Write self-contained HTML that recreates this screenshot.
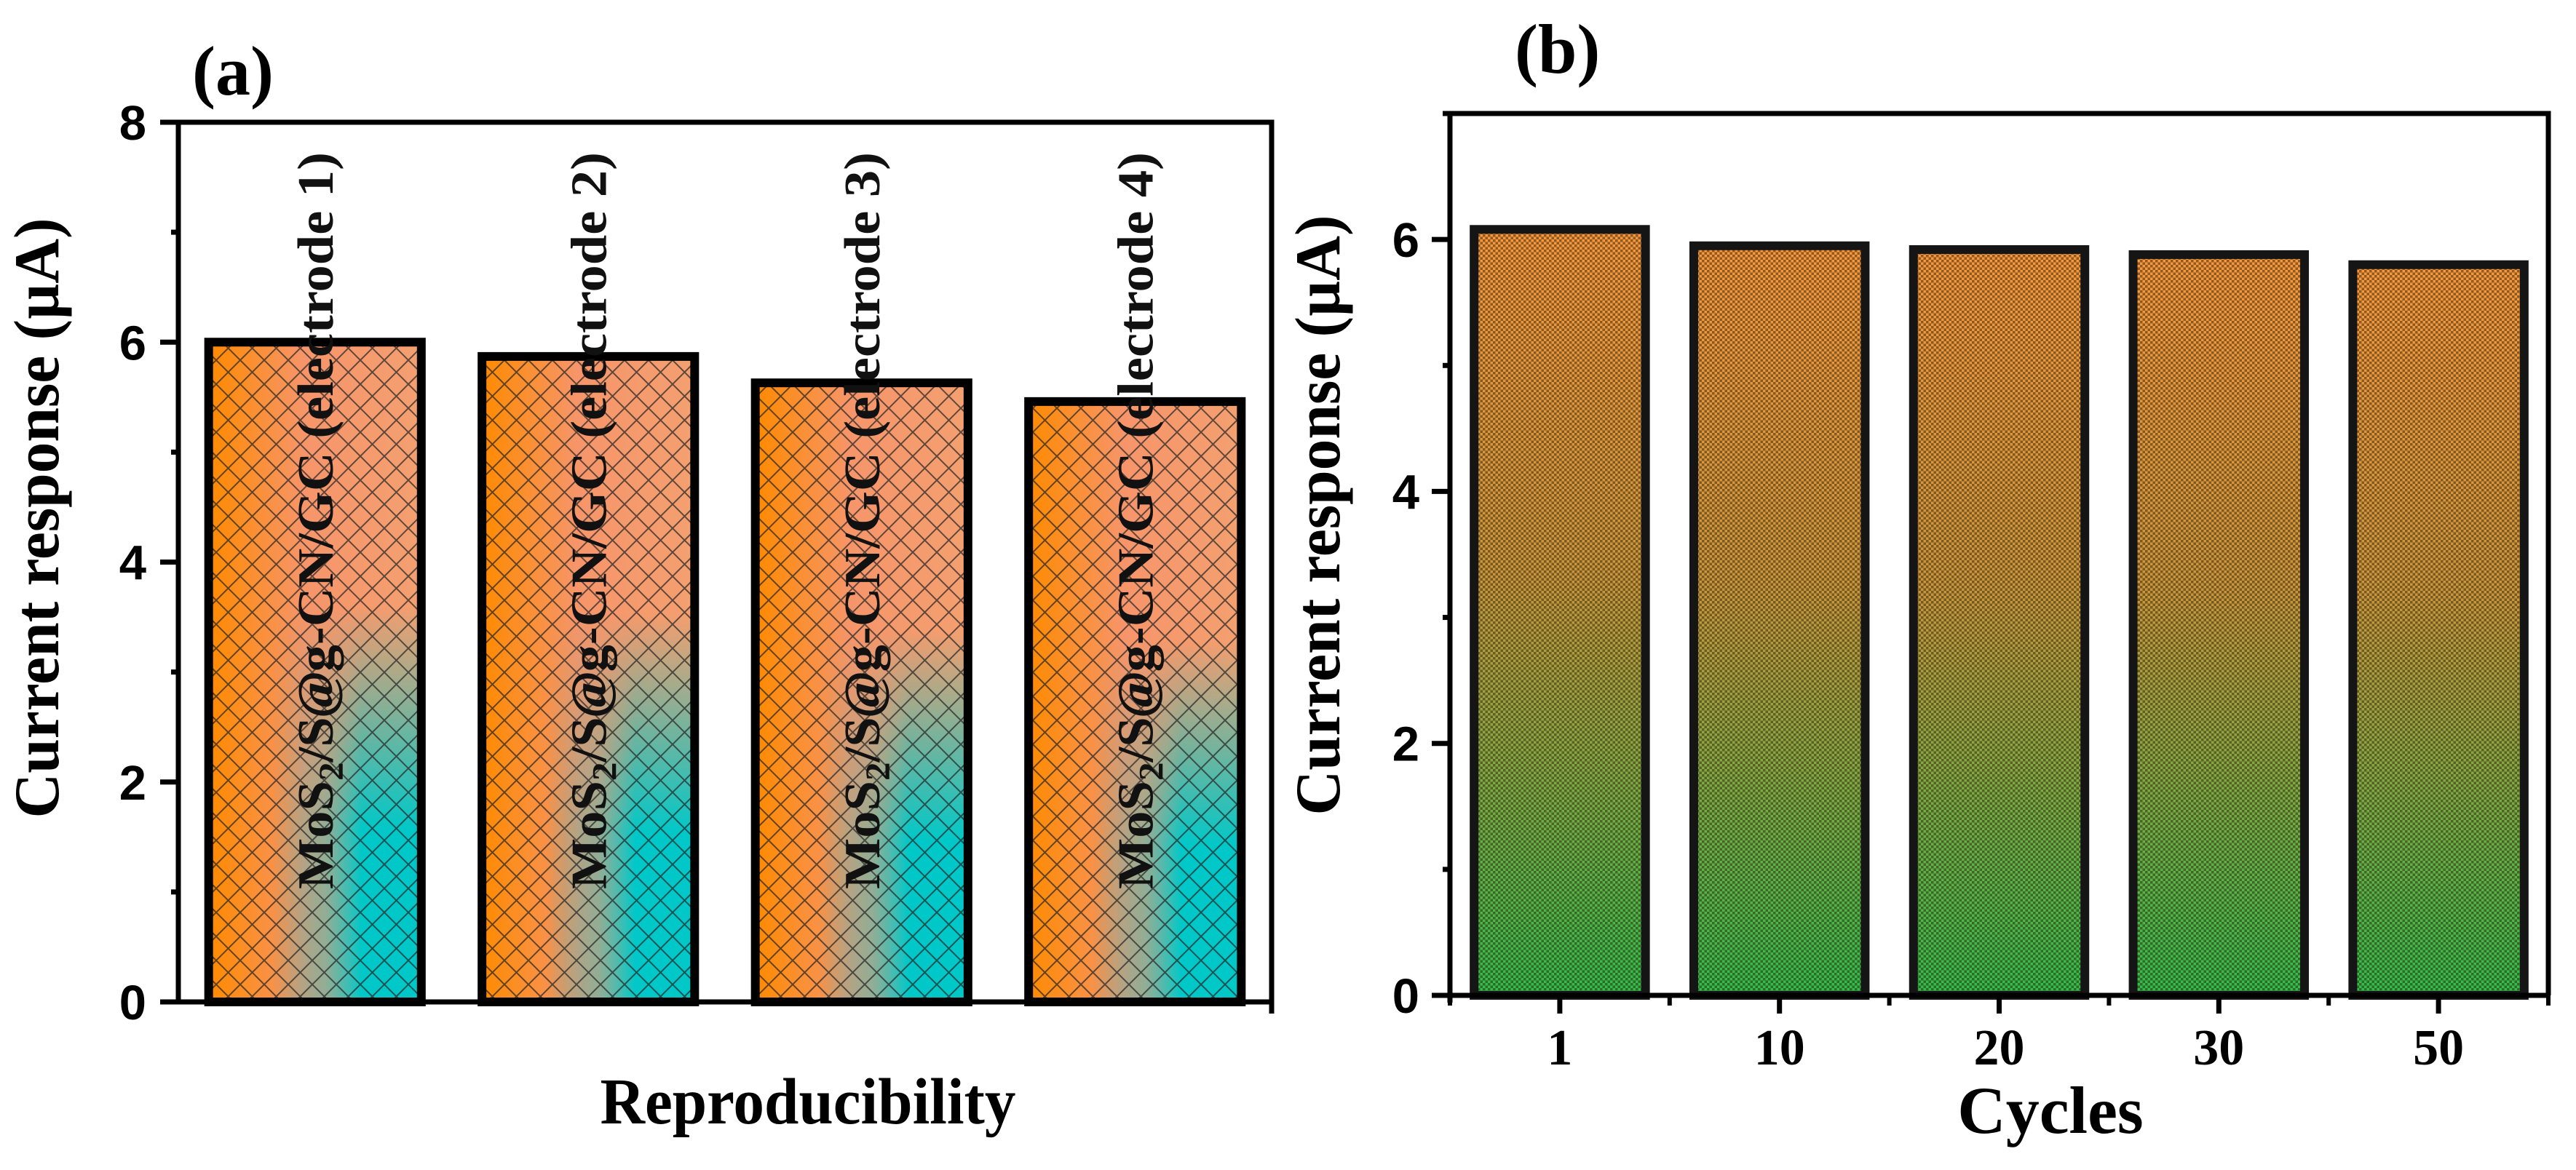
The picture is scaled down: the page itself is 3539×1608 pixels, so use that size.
<!DOCTYPE html>
<html><head><meta charset="utf-8"><style>
html,body{margin:0;padding:0;background:#fff;}
svg{display:block;}
</style></head><body>
<svg id="chart" width="3539" height="1608" viewBox="0 0 3539 1608" xmlns="http://www.w3.org/2000/svg">
<defs>
  <linearGradient id="gA" x1="0" y1="0" x2="1" y2="0">
    <stop offset="0" stop-color="#ff8a00"/>
    <stop offset="0.45" stop-color="#f6956a"/>
    <stop offset="1" stop-color="#f4a070"/>
  </linearGradient>
  <linearGradient id="gTealH" x1="0" y1="0" x2="1" y2="0">
    <stop offset="0" stop-color="#00c8c8" stop-opacity="0"/>
    <stop offset="0.3" stop-color="#00c8c8" stop-opacity="0"/>
    <stop offset="0.55" stop-color="#40c0b8" stop-opacity="0.55"/>
    <stop offset="0.72" stop-color="#00c8c8" stop-opacity="1"/>
    <stop offset="1" stop-color="#00c8c8" stop-opacity="1"/>
  </linearGradient>
  <linearGradient id="gMaskV" x1="0" y1="0" x2="0" y2="1">
    <stop offset="0" stop-color="#000"/>
    <stop offset="0.4" stop-color="#000"/>
    <stop offset="0.74" stop-color="#fff"/>
    <stop offset="1" stop-color="#fff"/>
  </linearGradient>
  <mask id="mV" maskContentUnits="objectBoundingBox">
    <rect x="0" y="0" width="1" height="1" fill="url(#gMaskV)"/>
  </mask>
  <pattern id="hatch" width="33" height="33" patternUnits="userSpaceOnUse">
    <path d="M0,0 L33,33 M33,0 L0,33" stroke="#222" stroke-width="2" fill="none" opacity="0.7"/>
  </pattern>
  <linearGradient id="gB" x1="0" y1="0" x2="0" y2="1">
    <stop offset="0" stop-color="#f7983f"/>
    <stop offset="0.45" stop-color="#c8963e"/>
    <stop offset="1" stop-color="#2fbd4e"/>
  </linearGradient>
  <pattern id="check" width="7" height="7" patternUnits="userSpaceOnUse">
    <rect x="0" y="0" width="3.5" height="3.5" fill="#2a1a00" opacity="0.5"/>
    <rect x="3.5" y="3.5" width="3.5" height="3.5" fill="#2a1a00" opacity="0.5"/>
  </pattern>
</defs>
<g id="layer"></g>
</svg>
<script>
const catsA = ["electrode 1","electrode 2","electrode 3","electrode 4"];
const valsA = [6.0, 5.87, 5.63, 5.46];
const ticksA = [0,2,4,6,8];
const catsB = ["1","10","20","30","50"];
const valsB = [6.08, 5.95, 5.92, 5.88, 5.80];
const ticksB = [0,2,4,6];

const NS="http://www.w3.org/2000/svg";
const L=document.getElementById('layer');
function mk(tag,attrs,parent){const e=document.createElementNS(NS,tag);for(const k in attrs)e.setAttribute(k,attrs[k]);(parent||L).appendChild(e);return e;}
function txt(s,attrs){const e=mk('text',attrs);e.textContent=s;return e;}

// ---- Panel A ----
const A={x0:245,x1:1747,y0:1377,y1:168,max:8};
const yA=v=>A.y0-(A.y0-A.y1)*v/A.max;
const slotA=(A.x1-A.x0)/catsA.length;
const xA=i=>A.x0+slotA*(i+0.5);
catsA.forEach((c,i)=>{
  const w=slotA*0.81-12, x=xA(i)-w/2, y=yA(valsA[i]), h=A.y0-y;
  const g=mk('g',{});
  
  
  mk('rect',{x:x,y:y,width:w,height:h,fill:'url(#gA)'},g);
  mk('rect',{x:x,y:y,width:w,height:h,fill:'url(#gTealH)',mask:'url(#mV)'},g);
  mk('rect',{x:x,y:y,width:w,height:h,fill:'url(#hatch)'},g);
  mk('rect',{x:x,y:y,width:w,height:h,fill:'none',stroke:'#000','stroke-width':12},g);
  const t=mk('text',{transform:`translate(${xA(i)+24},1222) rotate(-90)`,'font-family':'Liberation Serif, serif','font-weight':'bold','font-size':70,fill:'#111',textLength:1013,lengthAdjust:'spacingAndGlyphs'});
  
  
  t.innerHTML='MoS<tspan font-size="48" dy="14">2</tspan><tspan dy="-14">/S</tspan><tspan font-style="italic">@</tspan>g-CN/GC ('+c+')';
});
let ax=mk('path',{d:`M${A.x0},${A.y1} L${A.x1},${A.y1} L${A.x1},${A.y0+16} M${A.x0},${A.y1} L${A.x0},${A.y0+3} M${A.x0-3},${A.y0} L${A.x1},${A.y0}`,stroke:'#000','stroke-width':7,fill:'none'});


for(let v=0;v<=8;v++){
  const major=v%2===0;
  mk('line',{x1:A.x0,x2:A.x0-(major?25:10),y1:yA(v),y2:yA(v),stroke:'#000','stroke-width':7});
}
ticksA.forEach(v=>{const t=txt(String(v),{x:201,y:yA(v)+24,'text-anchor':'end','font-family':'Liberation Sans, sans-serif','font-weight':'bold','font-size':67});
  
  });
let t1=txt('Current response (µA)',{transform:'translate(80,712) rotate(-90)','text-anchor':'middle','font-family':'Liberation Serif, serif','font-weight':'bold','font-size':88,textLength:825,lengthAdjust:'spacingAndGlyphs'});


let t2=txt('Reproducibility',{x:1110,y:1544,'text-anchor':'middle','font-family':'Liberation Serif, serif','font-weight':'bold','font-size':90,textLength:571,lengthAdjust:'spacingAndGlyphs'});


let t3=txt('(a)',{x:264,y:130,'font-family':'Liberation Serif, serif','font-weight':'bold','font-size':96});



// ---- Panel B ----
const B={x0:1992,x1:3501,y0:1368,y1:156,max:7};
const yB=v=>B.y0-(B.y0-B.y1)*v/B.max;
const slotB=(B.x1-B.x0)/catsB.length;
const xB=i=>B.x0+slotB*(i+0.5);
catsB.forEach((c,i)=>{
  const w=slotB*0.82-12, x=xB(i)-w/2, y=yB(valsB[i]), h=B.y0-y;
  const g=mk('g',{});
  
  
  mk('rect',{x:x,y:y,width:w,height:h,fill:'url(#gB)'},g);
  mk('rect',{x:x,y:y,width:w,height:h,fill:'url(#check)'},g);
  mk('rect',{x:x,y:y,width:w,height:h,fill:'none',stroke:'#151515','stroke-width':12},g);
});
let bx=mk('path',{d:`M${B.x0},${B.y1} L${B.x1},${B.y1} L${B.x1},${B.y0} M${B.x0},${B.y1} L${B.x0},${B.y0+10} M${B.x0-3},${B.y0} L${B.x1+3},${B.y0}`,stroke:'#000','stroke-width':7,fill:'none'});


for(let v=0;v<=7;v++){
  const major=v%2===0;
  mk('line',{x1:B.x0,x2:B.x0-(major?25:10),y1:yB(v),y2:yB(v),stroke:'#000','stroke-width':7});
}
for(let i=0;i<=catsB.length;i++){
  mk('line',{x1:B.x0+slotB*i,x2:B.x0+slotB*i,y1:B.y0,y2:B.y0+14,stroke:'#000','stroke-width':6});
}
catsB.forEach((c,i)=>{
  mk('line',{x1:xB(i),x2:xB(i),y1:B.y0,y2:B.y0+25,stroke:'#000','stroke-width':7});
  const t=txt(c,{x:xB(i),y:1463,'text-anchor':'middle','font-family':'Liberation Serif, serif','font-weight':'bold','font-size':70});
  
  
});
ticksB.forEach(v=>{const t=txt(String(v),{x:1950,y:yB(v)+24,'text-anchor':'end','font-family':'Liberation Sans, sans-serif','font-weight':'bold','font-size':67});
  
  });
let t4=txt('Current response (µA)',{transform:'translate(1840,708) rotate(-90)','text-anchor':'middle','font-family':'Liberation Serif, serif','font-weight':'bold','font-size':88,textLength:825,lengthAdjust:'spacingAndGlyphs'});


let t5=txt('Cycles',{x:2817,y:1557,'text-anchor':'middle','font-family':'Liberation Serif, serif','font-weight':'bold','font-size':92});


let t6=txt('(b)',{x:2081,y:100,'font-family':'Liberation Serif, serif','font-weight':'bold','font-size':96});


</script>
</body></html>
